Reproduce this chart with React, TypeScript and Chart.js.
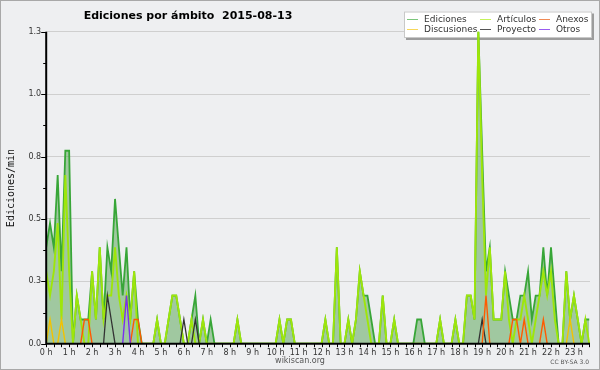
import { useEffect, useRef } from "react";
import { Chart, registerables } from "chart.js";

Chart.register(...registerables);

// 10-minute slots starting at 0 h (6 per hour)
const SLOTS_PER_HOUR = 6;

const HOUR_LABELS = [
  "0 h", "1 h", "2 h", "3 h", "4 h", "5 h", "6 h", "7 h", "8 h", "9 h", "10 h", "11 h",
  "12 h", "13 h", "14 h", "15 h", "16 h", "17 h", "18 h", "19 h", "20 h", "21 h", "22 h", "23 h",
];
const Y_TICK_VALUES = [0, 0.125, 0.25, 0.375, 0.5, 0.625, 0.75, 0.875, 1, 1.125, 1.25];
const Y_TICK_LABELS = ["0.0", "", "0.3", "", "0.5", "", "0.8", "", "1.0", "", "1.3"];

const EDICIONES = [
  0.386, 0.483, 0.386, 0.676, 0.29, 0.773, 0.773, 0, 0.193, 0.097, 0.097, 0.097,
  0.29, 0.097, 0.386, 0.097, 0.386, 0.29, 0.58, 0.386, 0.193, 0.386, 0.097, 0.29,
  0.097, 0, 0, 0, 0, 0.097, 0, 0, 0.097, 0.193, 0.193, 0.097,
  0, 0, 0.097, 0.193, 0, 0.097, 0, 0.097, 0, 0, 0, 0,
  0, 0, 0.097, 0, 0, 0, 0, 0, 0, 0, 0, 0,
  0, 0.097, 0, 0.097, 0.097, 0, 0, 0, 0, 0, 0, 0,
  0, 0.097, 0, 0, 0.386, 0, 0, 0.097, 0, 0.097, 0.29, 0.193,
  0.193, 0.097, 0, 0, 0.193, 0, 0, 0.097, 0, 0, 0, 0,
  0, 0.097, 0.097, 0, 0, 0, 0, 0.097, 0, 0, 0, 0.097,
  0, 0, 0.193, 0.193, 0.097, 1.256, 0.773, 0.29, 0.386, 0.097, 0.097, 0.097,
  0.29, 0.193, 0.097, 0.097, 0.193, 0.193, 0.29, 0.097, 0.193, 0.193, 0.386, 0.193,
  0.386, 0.193, 0, 0, 0.29, 0.097, 0.193, 0.097, 0, 0.097, 0.097,
];

const ARTICULOS = [
  0.29, 0.193, 0.29, 0.483, 0.097, 0.676, 0.29, 0, 0.193, 0.097, 0, 0,
  0.29, 0.097, 0.386, 0.097, 0.193, 0.193, 0.386, 0.193, 0.097, 0.193, 0.097, 0.29,
  0, 0, 0, 0, 0, 0.097, 0, 0, 0.097, 0.193, 0.193, 0.097,
  0, 0, 0.097, 0, 0, 0.097, 0, 0, 0, 0, 0, 0,
  0, 0, 0.097, 0, 0, 0, 0, 0, 0, 0, 0, 0,
  0, 0.097, 0, 0.097, 0.097, 0, 0, 0, 0, 0, 0, 0,
  0, 0.097, 0, 0, 0.386, 0, 0, 0.097, 0, 0.097, 0.29, 0.193,
  0.097, 0, 0, 0, 0.193, 0, 0, 0.097, 0, 0, 0, 0,
  0, 0, 0, 0, 0, 0, 0, 0.097, 0, 0, 0, 0.097,
  0, 0, 0.193, 0.193, 0.097, 1.256, 0.676, 0.193, 0.386, 0.097, 0.097, 0.097,
  0.29, 0.097, 0, 0.097, 0.097, 0.193, 0.097, 0, 0.097, 0.193, 0.29, 0.193,
  0.29, 0.097, 0, 0, 0.29, 0.097, 0.193, 0.097, 0, 0.097, 0,
];

const ANEXOS = [
  0, 0, 0, 0, 0, 0, 0, 0, 0, 0, 0.097, 0.097,
  0, 0, 0, 0, 0, 0, 0, 0, 0, 0, 0, 0.097,
  0.097, 0, 0, 0, 0, 0, 0, 0, 0, 0, 0, 0,
  0, 0, 0, 0, 0, 0, 0, 0, 0, 0, 0, 0,
  0, 0, 0, 0, 0, 0, 0, 0, 0, 0, 0, 0,
  0, 0, 0, 0, 0, 0, 0, 0, 0, 0, 0, 0,
  0, 0, 0, 0, 0, 0, 0, 0, 0, 0, 0, 0,
  0, 0, 0, 0, 0, 0, 0, 0, 0, 0, 0, 0,
  0, 0, 0, 0, 0, 0, 0, 0, 0, 0, 0, 0,
  0, 0, 0, 0, 0, 0, 0, 0.193, 0, 0, 0, 0,
  0, 0, 0.097, 0.097, 0, 0.097, 0, 0, 0, 0, 0.097, 0,
  0, 0, 0, 0, 0, 0, 0, 0, 0, 0, 0,
];

const DISCUSIONES = [
  0, 0.097, 0, 0, 0.097, 0, 0, 0, 0, 0, 0, 0,
  0, 0, 0, 0, 0, 0, 0, 0, 0, 0, 0, 0,
  0, 0, 0, 0, 0, 0, 0, 0, 0, 0, 0, 0,
  0, 0, 0, 0, 0, 0, 0, 0, 0, 0, 0, 0,
  0, 0, 0, 0, 0, 0, 0, 0, 0, 0, 0, 0,
  0, 0, 0, 0, 0, 0, 0, 0, 0, 0, 0, 0,
  0, 0, 0, 0, 0, 0, 0, 0, 0, 0, 0, 0,
  0, 0, 0, 0, 0, 0, 0, 0, 0, 0, 0, 0,
  0, 0, 0, 0, 0, 0, 0, 0, 0, 0, 0, 0,
  0, 0, 0, 0, 0, 0, 0, 0, 0, 0, 0, 0,
  0, 0, 0, 0, 0, 0, 0, 0, 0, 0, 0, 0,
  0, 0, 0, 0, 0, 0.097, 0, 0, 0, 0, 0,
];

const PROYECTO = [
  0, 0, 0, 0, 0, 0, 0, 0, 0, 0, 0, 0,
  0, 0, 0, 0, 0.193, 0.097, 0, 0, 0, 0, 0, 0,
  0, 0, 0, 0, 0, 0, 0, 0, 0, 0, 0, 0,
  0.097, 0, 0, 0.097, 0, 0, 0, 0, 0, 0, 0, 0,
  0, 0, 0, 0, 0, 0, 0, 0, 0, 0, 0, 0,
  0, 0, 0, 0, 0, 0, 0, 0, 0, 0, 0, 0,
  0, 0, 0, 0, 0, 0, 0, 0, 0, 0, 0, 0,
  0, 0, 0, 0, 0, 0, 0, 0, 0, 0, 0, 0,
  0, 0, 0, 0, 0, 0, 0, 0, 0, 0, 0, 0,
  0, 0, 0, 0, 0, 0, 0.097, 0, 0, 0, 0, 0,
  0, 0, 0, 0, 0, 0, 0, 0, 0, 0, 0, 0,
  0, 0, 0, 0, 0, 0, 0, 0, 0, 0, 0,
];

const OTROS = [
  0, 0, 0, 0, 0, 0, 0, 0, 0, 0, 0, 0,
  0, 0, 0, 0, 0, 0, 0, 0, 0, 0.193, 0, 0,
  0, 0, 0, 0, 0, 0, 0, 0, 0, 0, 0, 0,
  0, 0, 0, 0, 0, 0, 0, 0, 0, 0, 0, 0,
  0, 0, 0, 0, 0, 0, 0, 0, 0, 0, 0, 0,
  0, 0, 0, 0, 0, 0, 0, 0, 0, 0, 0, 0,
  0, 0, 0, 0, 0, 0, 0, 0, 0, 0, 0, 0,
  0, 0, 0, 0, 0, 0, 0, 0, 0, 0, 0, 0,
  0, 0, 0, 0, 0, 0, 0, 0, 0, 0, 0, 0,
  0, 0, 0, 0, 0, 0, 0, 0, 0, 0, 0, 0,
  0, 0, 0, 0, 0, 0, 0, 0, 0, 0, 0, 0,
  0, 0, 0, 0, 0, 0, 0, 0, 0, 0, 0,
];

const SERIES_NAMES = ["Ediciones", "Artículos", "Anexos", "Discusiones", "Proyecto", "Otros"];
const SERIES_COLORS = ["#38a638", "#9ee60a", "#ff5a00", "#f2c200", "#333333", "#7a2ef0"];
const LEGEND_COLORS = ["#7cc67c", "#c4f25a", "#f08a55", "#f7d75a", "#555555", "#9a5cf0"];

const TITLE = "Ediciones por ámbito  2015-08-13";
const Y_TITLE = "Ediciones/min";
const FOOTER = "wikiscan.org";
const LICENSE = "CC BY-SA 3.0";

const toPoints = (arr: number[]) => arr.map((v, i) => ({ x: i / SLOTS_PER_HOUR, y: v }));

const X_TICK_VALUES: number[] = [];
for (let k = 0; k / 3 <= 23.7; k++) X_TICK_VALUES.push(k / 3);

const decorPlugin = {
  id: "decor",
  beforeDraw(chart: any) {
    const ctx = chart.ctx;
    ctx.save();
    ctx.fillStyle = "#eeeff1";
    ctx.fillRect(0, 0, chart.width, chart.height);
    // frame
    ctx.strokeStyle = "#a8a8a8";
    ctx.lineWidth = 1;
    ctx.strokeRect(0.5, 0.5, chart.width - 1, chart.height - 1);
    // title
    ctx.fillStyle = "#000";
    ctx.font = "bold 11px 'DejaVu Sans'";
    ctx.textAlign = "center";
    ctx.textBaseline = "alphabetic";
    ctx.fillText(TITLE, 188, 18.5);
    // y title
    ctx.save();
    ctx.translate(13.5, 188);
    ctx.rotate(-Math.PI / 2);
    ctx.font = "10px 'DejaVu Sans Mono'";
    ctx.fillStyle = "#111";
    ctx.fillText(Y_TITLE, 0, 0);
    ctx.restore();
    // footer
    ctx.font = "8px 'DejaVu Sans'";
    ctx.fillStyle = "#555";
    ctx.textBaseline = "middle";
    ctx.textAlign = "center";
    ctx.fillText(FOOTER, 300, 361);
    ctx.font = "6px 'DejaVu Sans'";
    ctx.textAlign = "right";
    ctx.fillText(LICENSE, 589, 362);
    ctx.restore();
  },
  beforeDatasetsDraw(chart: any) {
    const ctx = chart.ctx;
    ctx.save();
    // legend box with shadow
    ctx.fillStyle = "#9c9c9c";
    ctx.fillRect(406, 13.5, 188, 26.5);
    ctx.fillStyle = "#ffffff";
    ctx.fillRect(404, 11.5, 188, 26.5);
    ctx.strokeStyle = "#c8c8c8";
    ctx.lineWidth = 1;
    ctx.strokeRect(404.5, 12, 187, 25.5);
    const cols = [407, 480, 539];
    const rows = [19, 29];
    ctx.font = "9px 'DejaVu Sans'";
    ctx.textBaseline = "middle";
    ctx.textAlign = "left";
    SERIES_NAMES.forEach((name, n) => {
      const cx = cols[n % 3];
      const cy = rows[Math.floor(n / 3)];
      ctx.strokeStyle = LEGEND_COLORS[n];
      ctx.lineWidth = 1;
      ctx.beginPath();
      ctx.moveTo(cx, cy + 0.5);
      ctx.lineTo(cx + 11, cy + 0.5);
      ctx.stroke();
      ctx.fillStyle = "#333";
      ctx.fillText(name, cx + 17, cy + 0.5);
    });
    ctx.restore();
  },
  afterDatasetsDraw(chart: any) {
    const ctx = chart.ctx;
    const { left, right, top, bottom } = chart.chartArea;
    const xs = chart.scales.x;
    const ys = chart.scales.y;
    ctx.save();
    ctx.strokeStyle = "#000";
    ctx.lineWidth = 1;
    ys.ticks.forEach((t: any, i: number) => {
      const y = Math.round(ys.getPixelForValue(t.value)) + 0.5;
      const len = i % 2 === 0 ? 5 : 3;
      ctx.beginPath();
      ctx.moveTo(left - len, y);
      ctx.lineTo(left, y);
      ctx.stroke();
    });
    xs.ticks.forEach((t: any) => {
      const x = Math.round(xs.getPixelForValue(t.value)) + 0.5;
      ctx.beginPath();
      ctx.moveTo(x, bottom);
      ctx.lineTo(x, bottom + 3.5);
      ctx.stroke();
    });
    ctx.lineWidth = 2;
    ctx.beginPath();
    ctx.moveTo(left, top);
    ctx.lineTo(left, bottom);
    ctx.lineTo(right, bottom);
    ctx.stroke();
    ctx.restore();
  },
};

export default function App() {
  const ref = useRef<HTMLCanvasElement | null>(null);

  useEffect(() => {
    document.body.style.margin = "0";
    const canvas = ref.current;
    if (!canvas) return;
    const seriesData = [EDICIONES, ARTICULOS, ANEXOS, DISCUSIONES, PROYECTO, OTROS];
    const orders = [6, 5, 2, 3, 4, 1];
    const widths = [1.8, 1.9, 1.4, 1.4, 1.3, 1.4];
    const datasets: any[] = seriesData.map((arr, s) => ({
      label: SERIES_NAMES[s],
      data: toPoints(arr),
      borderColor: SERIES_COLORS[s],
      borderWidth: widths[s],
      backgroundColor: s === 0 ? "rgba(82,161,79,0.5)" : "transparent",
      fill: s === 0 ? "origin" : false,
      pointRadius: 0,
      tension: 0,
      order: orders[s],
    }));

    const chart = new Chart(canvas, {
      type: "line",
      data: { datasets },
      options: {
        animation: false,
        responsive: false,
        events: [],
        layout: { padding: { top: 31.7, right: 10, left: 0, bottom: 0 } },
        plugins: {
          legend: { display: false },
          title: { display: false },
          tooltip: { enabled: false },
        },
        scales: {
          x: {
            type: "linear",
            min: 0,
            max: 23.7,
            afterFit: (s: any) => {
              s.height = 26.3;
            },
            afterBuildTicks: (s: any) => {
              s.ticks = X_TICK_VALUES.map((v) => ({ value: v }));
            },
            grid: { display: false, drawTicks: false },
            border: { display: false },
            ticks: {
              autoSkip: false,
              maxRotation: 0,
              minRotation: 0,
              padding: 4,
              color: "#333",
              font: { family: "DejaVu Sans", size: 8 },
              callback: (_v: any, i: number) => (i % 3 === 0 ? HOUR_LABELS[i / 3] : ""),
            },
          },
          y: {
            min: 0,
            max: 1.25,
            afterFit: (s: any) => {
              s.width = 46.2;
            },
            afterBuildTicks: (s: any) => {
              s.ticks = Y_TICK_VALUES.map((v) => ({ value: v }));
            },
            grid: {
              drawTicks: false,
              lineWidth: 1,
              color: (c: any) => (c.index % 2 === 0 && c.index > 0 ? "#cfcfcf" : "rgba(0,0,0,0)"),
            },
            border: { display: false },
            ticks: {
              padding: 5,
              color: "#333",
              font: { family: "DejaVu Sans", size: 8 },
              callback: (_v: any, i: number) => Y_TICK_LABELS[i] ?? "",
            },
          },
        },
      },
      plugins: [decorPlugin],
    } as any);
    return () => chart.destroy();
  }, []);

  return <canvas ref={ref} width={600} height={370} style={{ display: "block", width: 600, height: 370 }} />;
}
